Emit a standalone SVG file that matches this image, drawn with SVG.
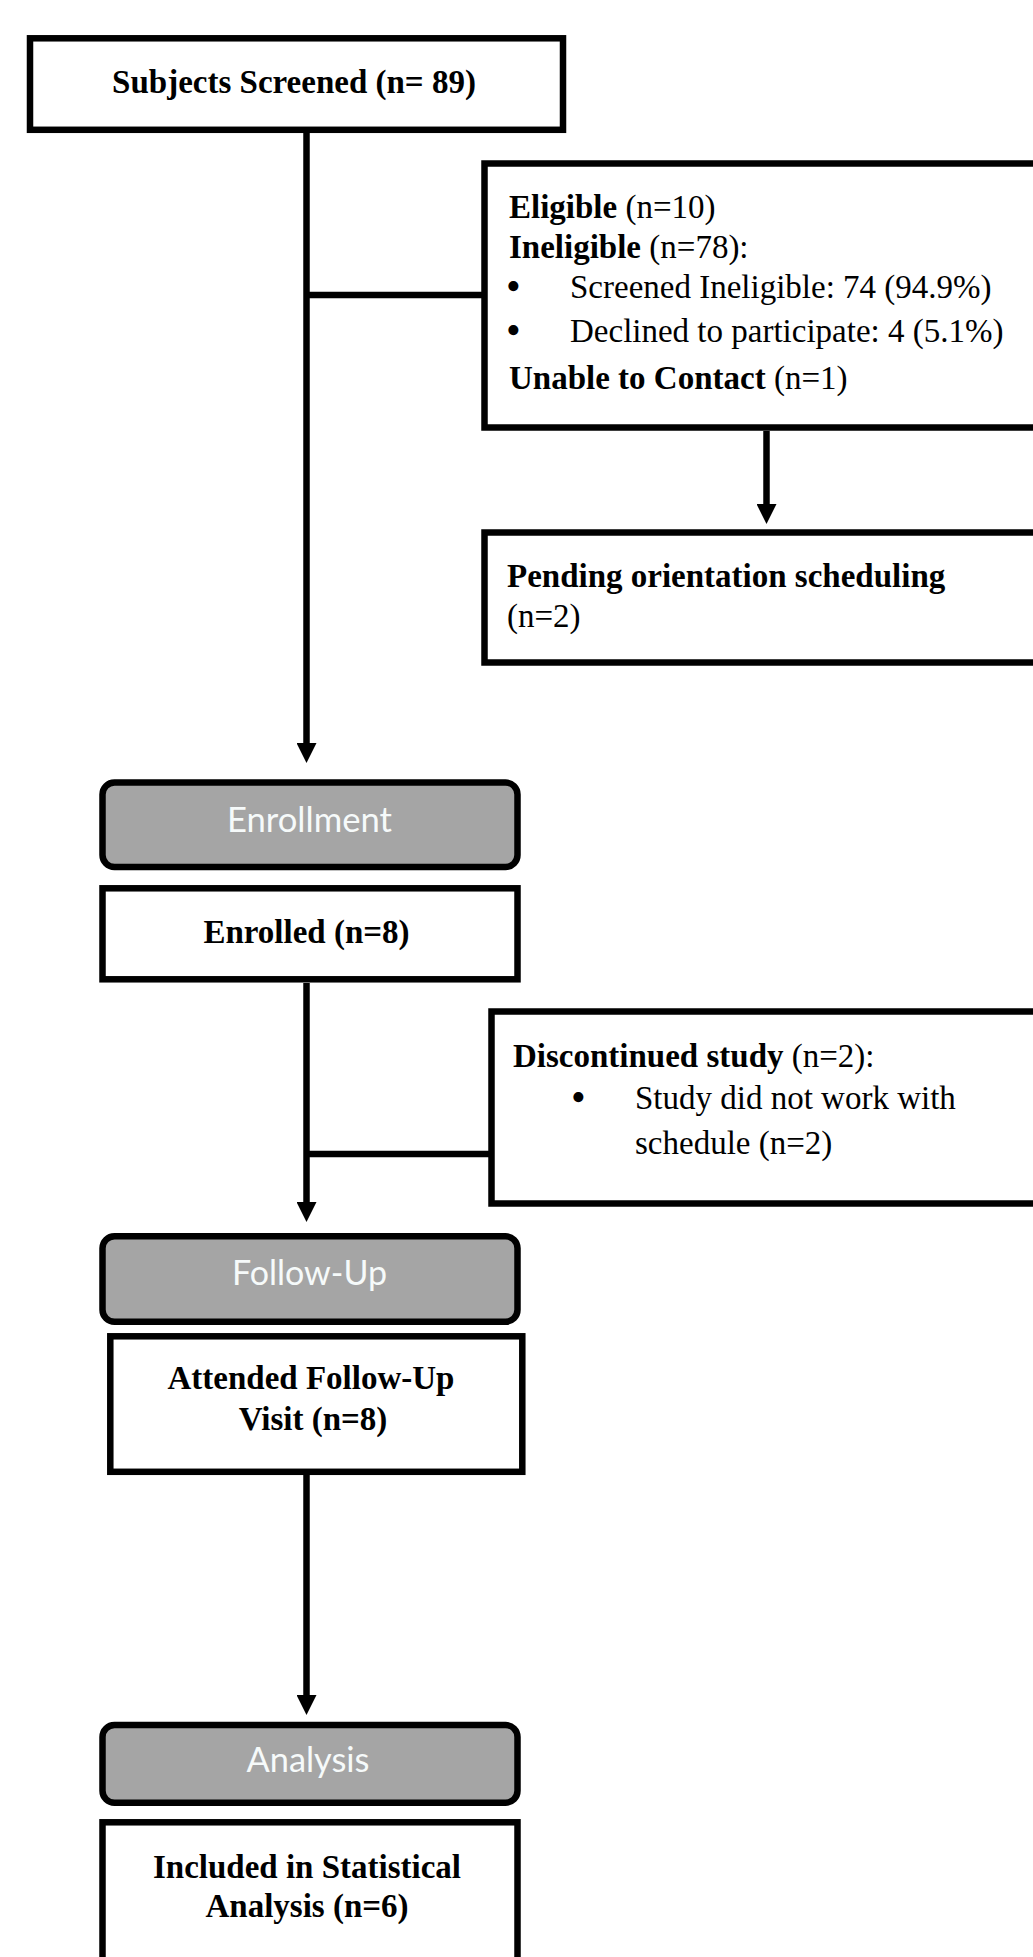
<svg xmlns="http://www.w3.org/2000/svg" width="1033" height="1957" viewBox="0 0 1033 1957">
  <style>
    .box { fill: #ffffff; stroke: #000000; stroke-width: 6.5; }
    .hdr { fill: #a5a5a5; stroke: #000000; stroke-width: 6.5; }
    .t { font-family: "Liberation Serif", "Times New Roman", serif; font-size: 33px; fill: #000000; }
    .b { font-weight: bold; }
    .r { font-weight: normal; }
    .bul { font-family: "Liberation Serif", "Times New Roman", serif; font-size: 42px; fill: #000000; }
    .h { font-family: Lato, "Liberation Sans", sans-serif; font-size: 35px; fill: #f6fafa; text-anchor: middle; }
    .c { text-anchor: middle; }
    .ln { stroke: #000000; stroke-width: 6.5; fill: none; }
  </style>
  <defs>
    <marker id="arr" markerUnits="userSpaceOnUse" markerWidth="20" markerHeight="20" viewBox="0 0 20 20" refX="0" refY="10" orient="auto">
      <path d="M0,0 L20,10 L0,20 z" fill="#000000"/>
    </marker>
  </defs>
  <rect x="0" y="0" width="1033" height="1957" fill="#ffffff"/>

  <g id="connectors">
    <line class="ln" x1="306.5" y1="133" x2="306.5" y2="743" marker-end="url(#arr)"/>
    <line class="ln" x1="306.5" y1="295" x2="482" y2="295"/>
    <line class="ln" x1="766.5" y1="431" x2="766.5" y2="504" marker-end="url(#arr)"/>
    <line class="ln" x1="306.5" y1="983" x2="306.5" y2="1202" marker-end="url(#arr)"/>
    <line class="ln" x1="306.5" y1="1154" x2="489" y2="1154"/>
    <line class="ln" x1="306.5" y1="1475" x2="306.5" y2="1695" marker-end="url(#arr)"/>
  </g>

  <g id="screened">
    <rect class="box" x="30" y="38.3" width="533" height="91.5"/>
    <text class="t b c" x="294" y="93">Subjects Screened (n= 89)</text>
  </g>

  <g id="eligibility">
    <rect class="box" x="484.5" y="163.5" width="600" height="264"/>
    <text class="t" x="509" y="218"><tspan class="b">Eligible</tspan><tspan class="r"> (n=10)</tspan></text>
    <text class="t" x="509" y="258"><tspan class="b">Ineligible</tspan><tspan class="r"> (n=78):</tspan></text>
    <text class="bul" x="506" y="300">•</text>
    <text class="t r" x="570" y="298">Screened Ineligible: 74 (94.9%)</text>
    <text class="bul" x="506" y="344">•</text>
    <text class="t r" x="570" y="342">Declined to participate: 4 (5.1%)</text>
    <text class="t" x="509" y="389"><tspan class="b">Unable to Contact</tspan><tspan class="r"> (n=1)</tspan></text>
  </g>

  <g id="pending">
    <rect class="box" x="484.5" y="532.5" width="600" height="130"/>
    <text class="t b" x="507" y="587">Pending orientation scheduling</text>
    <text class="t r" x="507" y="627">(n=2)</text>
  </g>

  <g id="enrollment-header">
    <rect class="hdr" x="102.5" y="782.5" width="415" height="84.5" rx="12" ry="12"/>
    <text class="h" x="309.5" y="831.5" textLength="165" lengthAdjust="spacingAndGlyphs">Enrollment</text>
  </g>

  <g id="enrolled">
    <rect class="box" x="102.5" y="888.3" width="415" height="91"/>
    <text class="t b c" x="306.5" y="943">Enrolled (n=8)</text>
  </g>

  <g id="discontinued">
    <rect class="box" x="491.5" y="1011.5" width="600" height="192"/>
    <text class="t" x="513" y="1067"><tspan class="b">Discontinued study</tspan><tspan class="r"> (n=2):</tspan></text>
    <text class="bul" x="571" y="1111">•</text>
    <text class="t r" x="635" y="1109">Study did not work with</text>
    <text class="t r" x="635" y="1154">schedule (n=2)</text>
  </g>

  <g id="followup-header">
    <rect class="hdr" x="102.5" y="1236.3" width="415" height="85.5" rx="12" ry="12"/>
    <text class="h" x="309.5" y="1285" textLength="155" lengthAdjust="spacingAndGlyphs">Follow-Up</text>
  </g>

  <g id="attended">
    <rect class="box" x="110.3" y="1336.3" width="412" height="135.5"/>
    <text class="t b c" x="311" y="1389">Attended Follow-Up</text>
    <text class="t b c" x="313" y="1430">Visit (n=8)</text>
  </g>

  <g id="analysis-header">
    <rect class="hdr" x="102.5" y="1725" width="415" height="77.7" rx="12" ry="12"/>
    <text class="h" x="308" y="1771.5" textLength="123" lengthAdjust="spacingAndGlyphs">Analysis</text>
  </g>

  <g id="included">
    <rect class="box" x="102.5" y="1822.3" width="415" height="200"/>
    <text class="t b c" x="307" y="1878">Included in Statistical</text>
    <text class="t b c" x="307" y="1917">Analysis (n=6)</text>
  </g>
</svg>
